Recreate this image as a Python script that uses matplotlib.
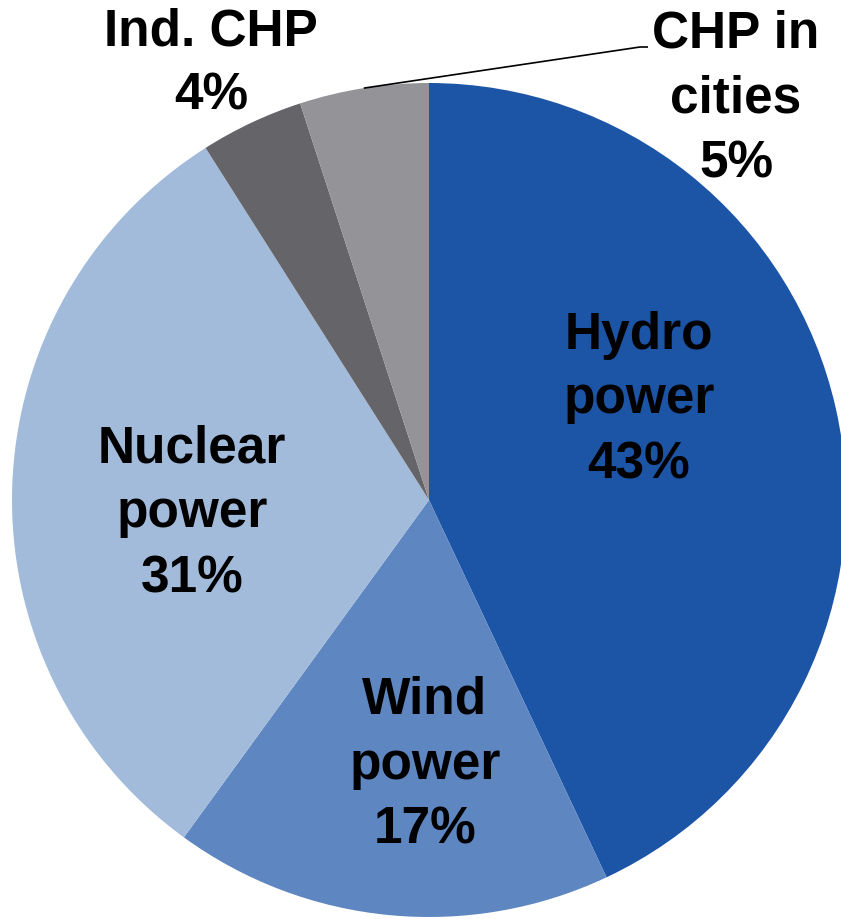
import numpy as np
import matplotlib
matplotlib.use("Agg")
from matplotlib import pyplot as plt

# Electricity production by source, share in percent
sources = ["Hydro\npower", "Wind\npower", "Nuclear\npower", "Ind. CHP", "CHP in\ncities"]
shares = [43, 17, 31, 4, 5]
colors = ["#1C55A6", "#5E86C1", "#A2BBDB", "#646469", "#949398"]

plt.rcParams["font.family"] = ["Liberation Sans", "DejaVu Sans"]

W, H = 841, 919
fig = plt.figure(figsize=(W / 100, H / 100), dpi=100)
ax = fig.add_axes([0, 0, 1, 1])

cx, cy, r = 429, H - 500, 417
wedges, _ = ax.pie(shares, colors=colors, startangle=90, counterclock=False,
                   center=(cx, cy), radius=r, frame=True,
                   wedgeprops=dict(linewidth=0))
ax.set_xlim(0, W)
ax.set_ylim(0, H)
ax.set_aspect("equal")
ax.axis("off")

# label positions (x, y from top) for each slice
label_pos = [(639, 400), (425, 765), (192, 514), (211, 64), (736, 99)]
for name, val, (lx, ly) in zip(sources, shares, label_pos):
    ax.text(lx, H - ly, f"{name}\n{val}%", ha="center", va="center",
            multialignment="center", fontsize=37, fontweight="bold",
            linespacing=1.42, color="black")

# leader line for the small CHP-in-cities slice
w = wedges[4]
mid = np.deg2rad((w.theta1 + w.theta2) / 2)
x0, y0 = cx + r * np.cos(mid), cy + r * np.sin(mid)
ax.plot([x0, 640, 648], [y0, H - 47, H - 47], color="black", lw=1.2,
        solid_capstyle="butt")

fig.savefig("out.png", dpi=100)
